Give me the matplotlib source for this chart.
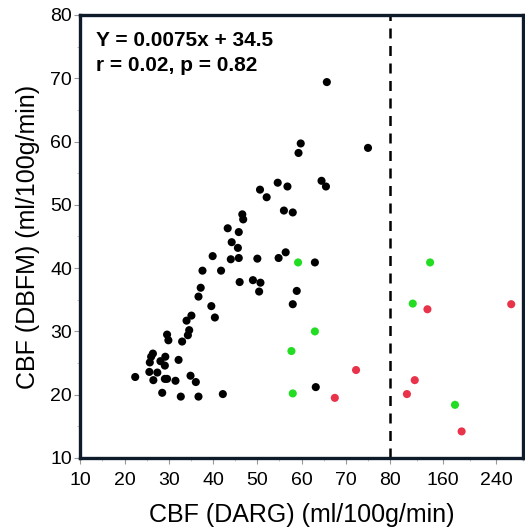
import numpy as np
import matplotlib
matplotlib.use("Agg")
import matplotlib.pyplot as plt
from matplotlib.ticker import FixedLocator

plt.rcParams['font.family'] = ['Liberation Sans', 'DejaVu Sans']

black_x = [65.7, 59.8, 59.3, 75.0, 54.6, 56.8, 50.6, 52.1, 64.5, 65.5, 56.0, 58.0,
           46.6, 46.8, 43.3, 45.8, 44.2, 45.6, 39.9, 44.0, 45.8, 50.0, 54.8, 56.4,
           63.0, 37.6, 41.8, 46.0, 49.0, 50.7, 50.4, 58.9, 58.0, 37.2, 36.7, 39.6,
           40.4, 35.1, 34.0, 34.6, 34.3, 29.6, 29.9, 33.0, 26.4, 26.0, 29.2, 25.7,
           28.1, 29.1, 32.2, 25.6, 27.4, 22.4, 26.5, 29.1, 29.6, 31.5, 34.9, 36.1,
           28.5, 32.7, 36.7, 42.2, 63.2]
black_y = [69.4, 59.7, 58.2, 59.0, 53.5, 52.9, 52.4, 51.2, 53.8, 52.9, 49.1, 48.8,
           48.5, 47.7, 46.3, 45.7, 44.1, 43.2, 41.9, 41.4, 41.6, 41.5, 41.6, 42.5,
           40.9, 39.6, 39.6, 37.8, 38.1, 37.7, 36.3, 36.4, 34.3, 36.9, 35.5, 34.0,
           32.2, 32.5, 31.7, 30.2, 29.4, 29.5, 28.6, 28.4, 26.5, 26.0, 26.0, 25.1,
           25.3, 24.6, 25.5, 23.6, 23.5, 22.8, 22.3, 22.5, 22.5, 22.2, 23.0, 22.0,
           20.3, 19.7, 19.7, 20.1, 21.2]
green_x = [59.2, 63.0, 57.7, 58.0, 140.2, 114.1, 177.7]
green_y = [40.9, 30.0, 26.9, 20.2, 40.9, 34.4, 18.4]
red_x = [136.2, 262.4, 72.3, 67.5, 117.1, 105.3, 187.7]
red_y = [33.5, 34.3, 23.9, 19.5, 22.3, 20.1, 14.2]

x_major = [10, 20, 30, 40, 50, 60, 70, 80, 160, 240]
x_minor = [15, 25, 35, 45, 55, 65, 75, 120, 200, 280]
y_major = [10, 20, 30, 40, 50, 60, 70, 80]
y_minor = [15, 25, 35, 45, 55, 65, 75]

K = 0.15
def fwd(x):
    x = np.asarray(x, dtype=float)
    return np.where(x <= 80, x, 80 + (x - 80) * K)
def inv(y):
    y = np.asarray(y, dtype=float)
    return np.where(y <= 80, y, 80 + (y - 80) / K)

fig = plt.figure(figsize=(5.25, 5.28), dpi=100)
ax = fig.add_axes([0.153, 0.1326, 0.843, 0.839])
ax.set_xscale('function', functions=(fwd, inv))

ax.scatter(black_x, black_y, s=34, color='black', edgecolors='none', zorder=3)
ax.scatter(green_x, green_y, s=34, color='#22dd22', edgecolors='none', zorder=3)
ax.scatter(red_x, red_y, s=34, color='#e8334a', edgecolors='none', zorder=3)

ax.axvline(80, color='black', linestyle=(0, (4, 3)), linewidth=1.8, zorder=2)

ax.set_xlim(10, 280)
ax.set_ylim(10, 80)
ax.xaxis.set_major_locator(FixedLocator(x_major))
ax.xaxis.set_minor_locator(FixedLocator(x_minor))
ax.set_xticklabels([str(v) for v in x_major])
ax.yaxis.set_major_locator(FixedLocator(y_major))
ax.yaxis.set_minor_locator(FixedLocator(y_minor))
ax.set_yticklabels([str(v) for v in y_major])

ax.tick_params(axis='both', which='major', labelsize=14, length=4, width=0.8,
               color='#999999', pad=2)
ax.tick_params(axis='x', which='major', pad=6)
ax.tick_params(axis='both', which='minor', length=2, width=0.6, color='#bbbbbb')

for sp in ax.spines.values():
    sp.set_linewidth(2.4)
    sp.set_color('#0d1b2a')

ax.set_xlabel('CBF (DARG) (ml/100g/min)', fontsize=18, labelpad=10)
ax.set_ylabel('CBF (DBFM) (ml/100g/min)', fontsize=18, labelpad=7)

ax.text(0.036, 0.931, 'Y = 0.0075x + 34.5', transform=ax.transAxes, fontsize=15,
        fontweight='bold', va='baseline', ha='left')
ax.text(0.036, 0.874, 'r = 0.02, p = 0.82', transform=ax.transAxes, fontsize=15,
        fontweight='bold', va='baseline', ha='left')

fig.savefig('out.png', dpi=100)
